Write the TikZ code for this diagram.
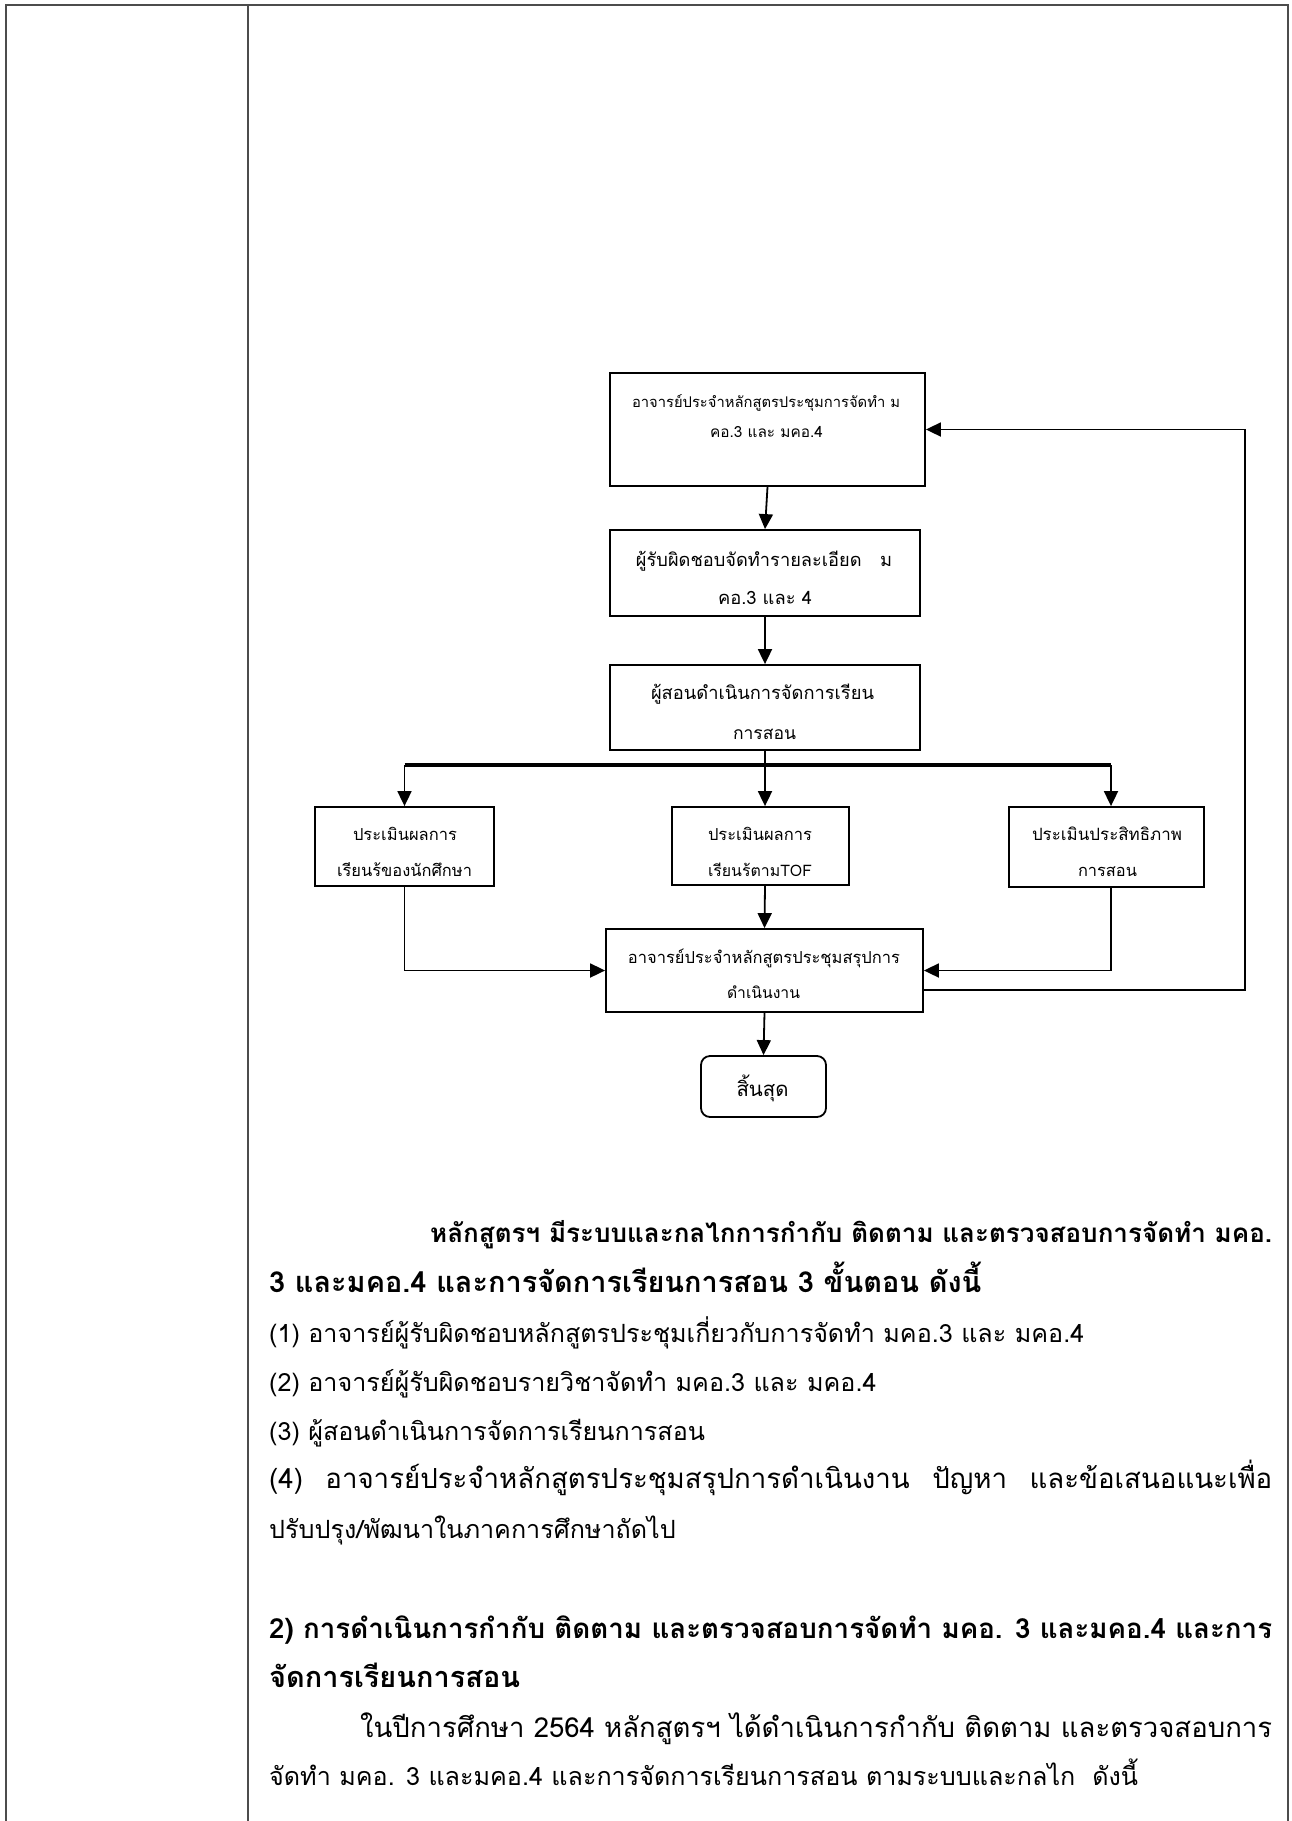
\documentclass[tikz,border=0pt]{standalone}
\usepackage{fontspec}
\newfontfamily\thaifont[Script=Thai]{Loma}
\usetikzlibrary{arrows.meta}
\newcommand{\fitto}[2]{\resizebox{#1pt}{!}{#2}}
\newlength{\calw}
\newcommand{\bfsz}{22}
\newcommand{\bbsz}{24}
% justified line: scale up a little (at most 10%), spread the rest over the spaces
\newcommand{\just}[2]{%
  \setbox2=\hbox{#2}%
  \pgfmathsetmacro{\jsc}{min(#1/\the\wd2,1.10)}%
  \pgfmathsetmacro{\jw}{#1/\jsc}%
  \scalebox{\jsc}{\makebox[\jw pt][s]{#2}}}
\begin{document}
\global\setbox0=\hbox{\thaifont\fontsize{10pt}{12pt}\selectfont (1) อาจารย์ผู้รับผิดชอบหลักสูตรประชุมเกี่ยวกับการจัดทำ มคอ.3 และ มคอ.4}%
\global\calw=\wd0
\pgfmathsetmacro{\tmpsz}{10*815/\the\calw}%
\xdef\bfsz{\tmpsz}%
\pgfmathsetmacro{\tmpsz}{1.15*\bfsz}%
\xdef\bbsz{\tmpsz}%
\begin{tikzpicture}[x=1pt,y=-1pt,
  box/.style={draw=black, line width=1.8pt, inner sep=0pt, rectangle},
  conn/.style={line width=1.8pt, -{Triangle[length=15pt,width=14pt]}},
  bar/.style={line width=3.5pt},
  txt/.style={inner sep=0pt, anchor=base, font=\thaifont},
  body/.style={inner sep=0pt, anchor=base west, font=\thaifont\fontsize{\bfsz pt}{\bfsz pt}\selectfont},
  bodyb/.style={body, font=\thaifont\fontsize{\bbsz pt}{\bbsz pt}\selectfont\bfseries},
  grid/.style={draw=black!70, line width=2pt}]
\useasboundingbox (0,0) rectangle (1291,1821);
% table frame
\draw[grid] (5,5) -- (1289,5);
\draw[grid] (6,5) -- (6,1821);
\draw[grid] (248,5) -- (248,1821);
\draw[grid] (1288,5) -- (1288,1821);
% boxes
\node[box, minimum width=315pt, minimum height=113pt] (b1) at (767.5,429.5) {};
\node[box, minimum width=310pt, minimum height=86pt] (b2) at (765,573) {};
\node[box, minimum width=310pt, minimum height=85pt] (b3) at (765,707.5) {};
\node[box, minimum width=179pt, minimum height=79pt] (bl) at (404.5,846.5) {};
\node[box, minimum width=177pt, minimum height=78pt] (bm) at (760.5,846) {};
\node[box, minimum width=195pt, minimum height=80pt] (br) at (1106.5,847) {};
\node[box, minimum width=317pt, minimum height=83pt] (bs) at (764.5,970.5) {};
\node[box, rounded corners=9pt, minimum width=125pt, minimum height=61pt] (be) at (763.5,1086.5) {};
% box texts
\node[txt] (t1a) at (766,407) {\fitto{268}{อาจารย์ประจำหลักสูตรประชุมการจัดทำ ม}};
\node[txt] (t1b) at (766.5,437) {\fitto{113}{คอ.3 และ มคอ.4}};
\node[txt] (t2a) at (764,566) {\fitto{256}{ผู้รับผิดชอบจัดทำรายละเอียด\ \ \ ม}};
\node[txt] (t2b) at (765,604) {\fitto{94}{คอ.3 และ 4}};
\node[txt] (t3a) at (762.5,699) {\fitto{223}{ผู้สอนดำเนินการจัดการเรียน}};
\node[txt] (t3b) at (764.5,739) {\fitto{63}{การสอน}};
\node[txt] (tla) at (405,840) {\fitto{104}{ประเมินผลการ}};
\node[txt] (tlb) at (404.5,876) {\fitto{135}{เรียนร้ของนักศึกษา}};
\node[txt] (tma) at (760,840) {\fitto{104}{ประเมินผลการ}};
\node[txt] (tmb) at (760,876) {\fitto{104}{เรียนร้ตามTOF}};
\node[txt] (tra) at (1107,840) {\fitto{150}{ประเมินประสิทธิภาพ}};
\node[txt] (trb) at (1107.5,876) {\fitto{59}{การสอน}};
\node[txt] (tsa) at (764,963) {\fitto{272}{อาจารย์ประจำหลักสูตรประชุมสรุปการ}};
\node[txt] (tsb) at (763.5,998) {\fitto{73}{ดำเนินงาน}};
\node[txt] (tea) at (762.5,1096) {\fitto{52}{สิ้นสุด}};
% connectors
\coordinate (barL) at (404.5,765);
\coordinate (barM) at (765,765);
\coordinate (barR) at (1111,765);
\coordinate (fbr) at (1245,990);
\draw[conn] (b1.south) -- (b2.north);
\draw[conn] (b2.south) -- (b3.north);
\draw[line width=1.8pt] (b3.south) -- (barM);
\draw[bar] (barL) -- (barR);
\draw[conn] (barL) -- (bl.north);
\draw[conn] (barM) -- (barM |- bm.north);
\draw[conn] (barR) -- (barR |- br.north);
\draw[conn] (barM |- bm.south) -- (bs.north);
\draw[conn] (bl.south) |- (bs.west);
\draw[conn] (barR |- br.south) |- (bs.east);
\draw[conn] ([yshift=-19.5pt]bs.east) -- (fbr) |- (b1.east);
\draw[conn] (bs.south) -- (be.north);
% body text
\node[bodyb] (p1) at (430,1242) {\just{842}{หลักสูตรฯ มีระบบและกลไกการกำกับ ติดตาม และตรวจสอบการจัดทำ มคอ.}};
\node[bodyb] (p2) at (269,1292) {3 และมคอ.4 และการจัดการเรียนการสอน 3 ขั้นตอน ดังนี้};
\node[body] (p3) at (269,1342) {(1) อาจารย์ผู้รับผิดชอบหลักสูตรประชุมเกี่ยวกับการจัดทำ มคอ.3 และ มคอ.4};
\node[body] (p4) at (269,1391) {(2) อาจารย์ผู้รับผิดชอบรายวิชาจัดทำ มคอ.3 และ มคอ.4};
\node[body] (p5) at (269,1440) {(3) ผู้สอนดำเนินการจัดการเรียนการสอน};
\node[body] (p6) at (269,1488) {\just{1003}{(4) อาจารย์ประจำหลักสูตรประชุมสรุปการดำเนินงาน ปัญหา และข้อเสนอแนะเพื่อ}};
\node[body] (p7) at (269,1538) {ปรับปรุง/พัฒนาในภาคการศึกษาถัดไป};
\node[bodyb] (p8) at (269,1638) {\just{1003}{2) การดำเนินการกำกับ ติดตาม และตรวจสอบการจัดทำ มคอ. 3 และมคอ.4 และการ}};
\node[bodyb] (p9) at (269,1687) {จัดการเรียนการสอน};
\node[body] (p10) at (360,1737) {\just{912}{ในปีการศึกษา 2564 หลักสูตรฯ ได้ดำเนินการกำกับ ติดตาม และตรวจสอบการ}};
\node[body] (p11) at (269,1785) {จัดทำ มคอ. 3 และมคอ.4 และการจัดการเรียนการสอน ตามระบบและกลไก\ \ ดังนี้};
\end{tikzpicture}
\end{document}
